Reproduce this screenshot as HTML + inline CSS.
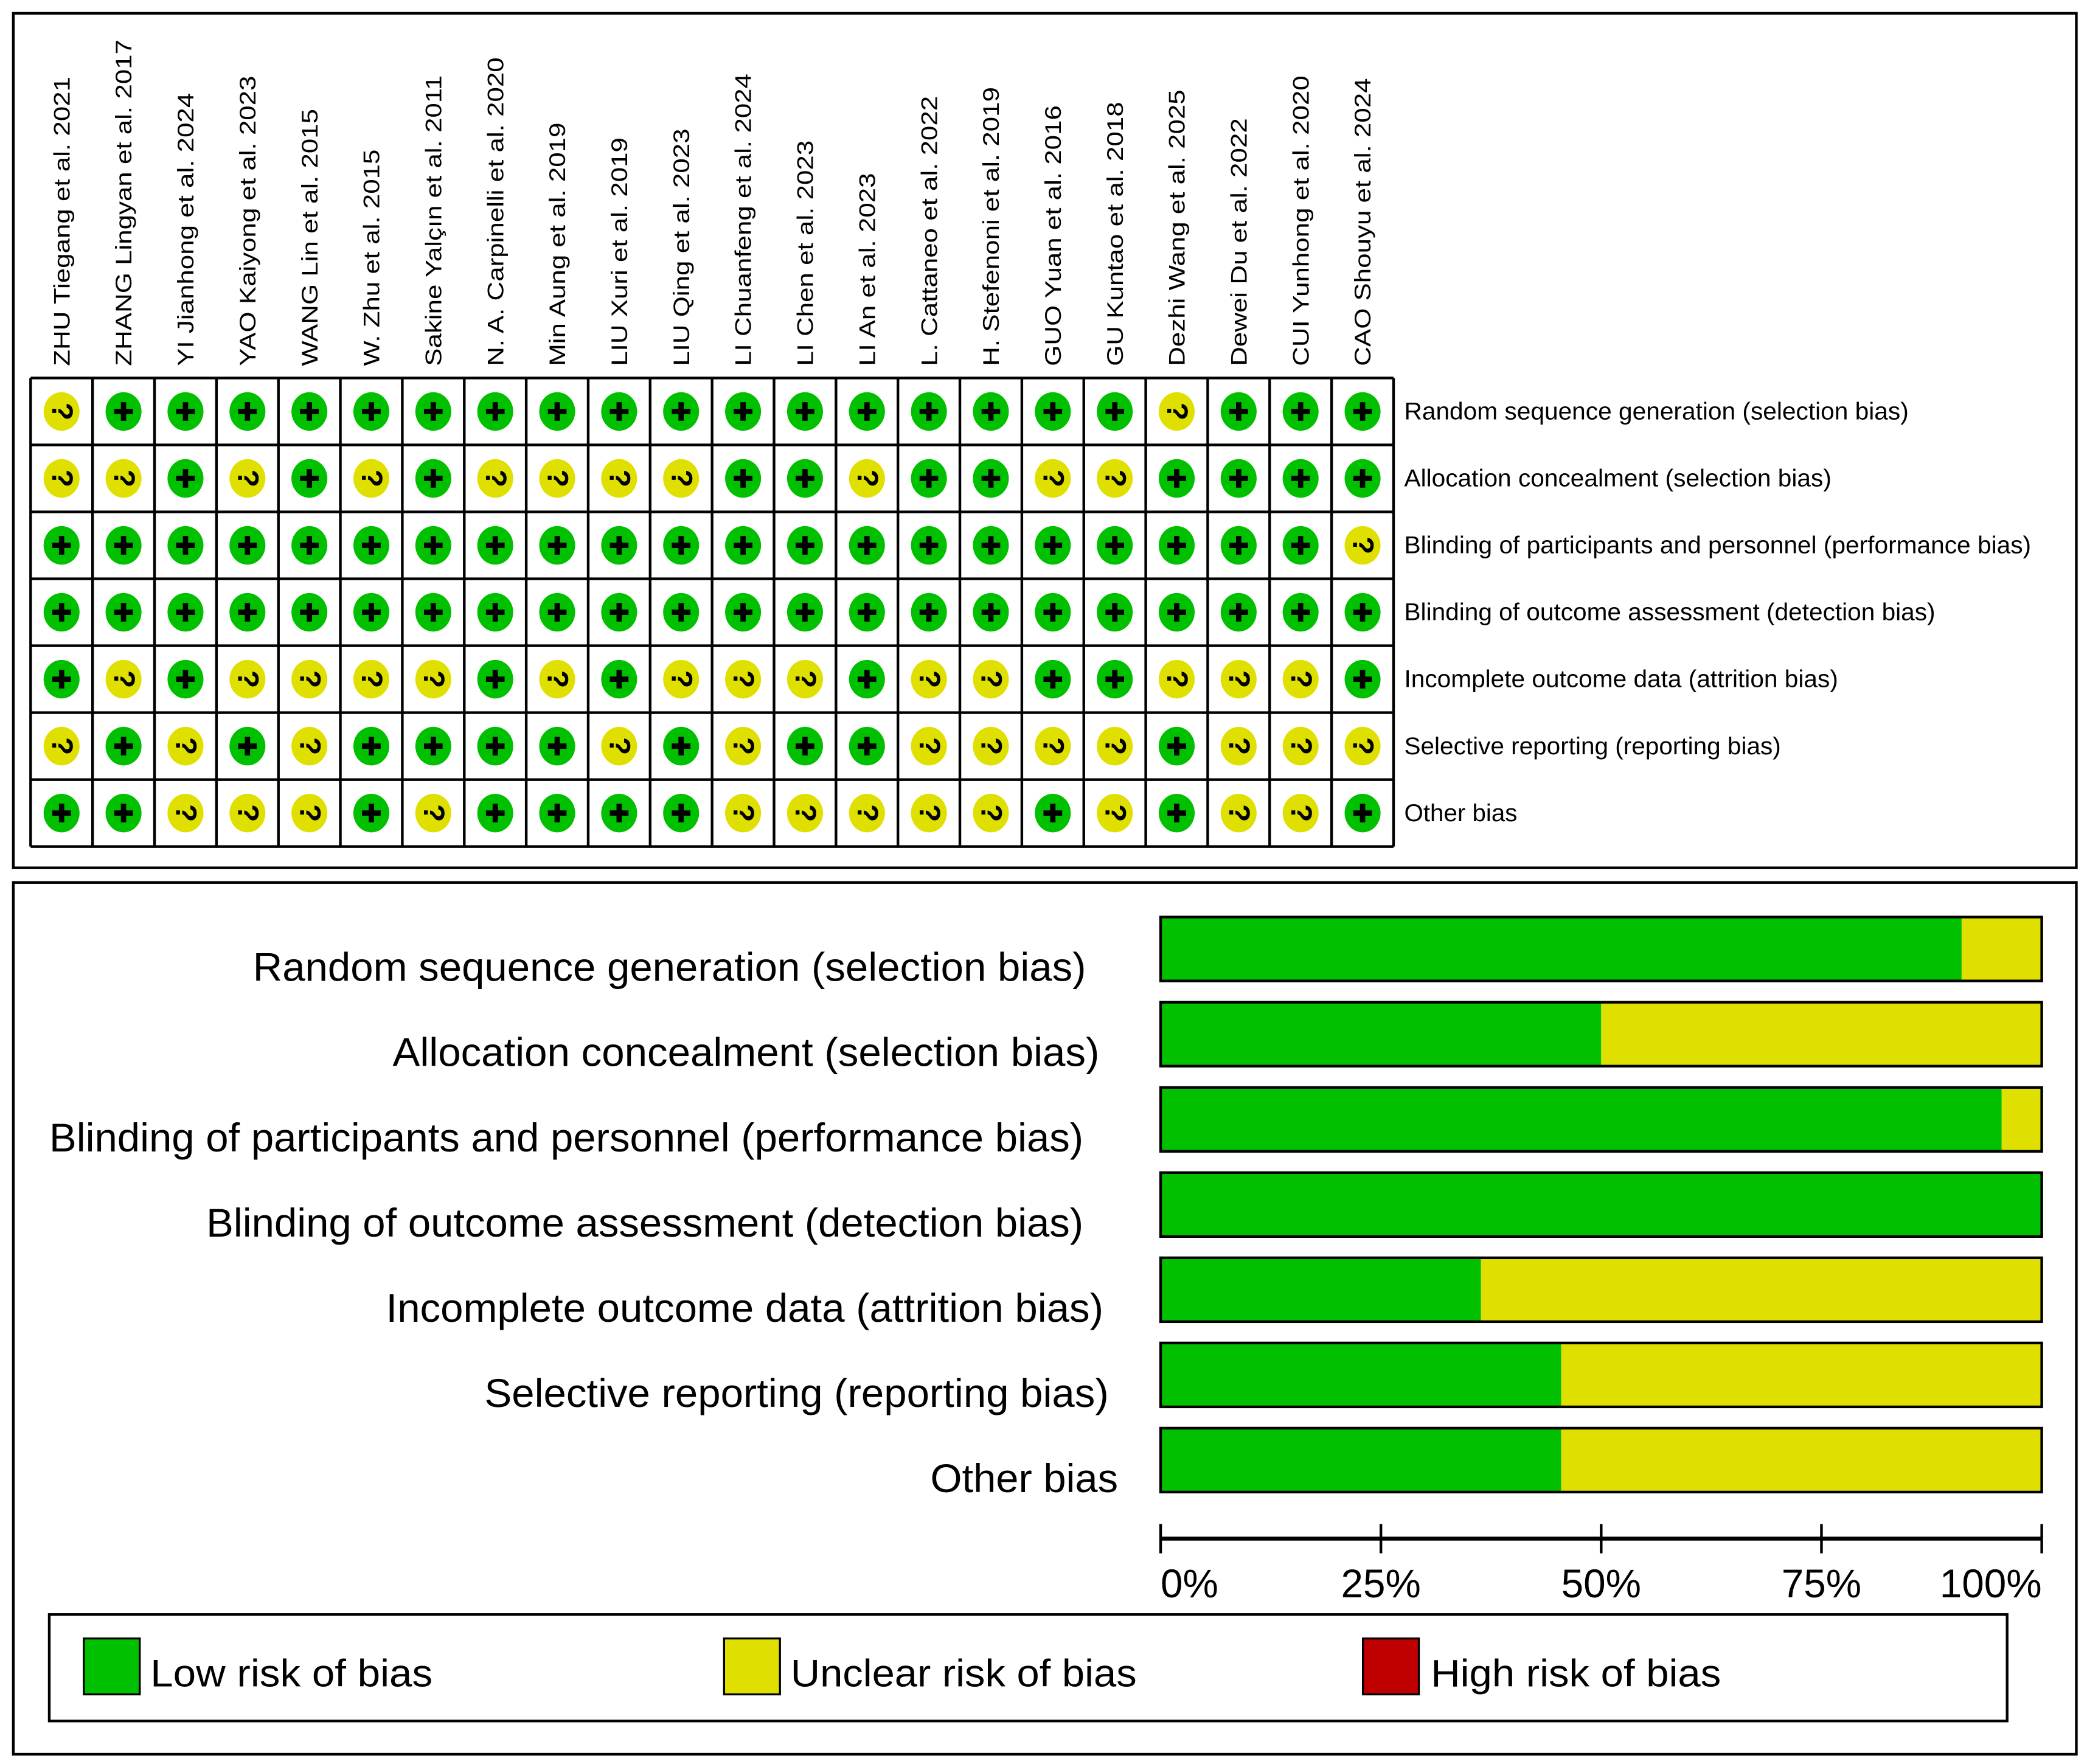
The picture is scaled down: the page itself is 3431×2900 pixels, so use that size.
<!DOCTYPE html>
<html><head><meta charset="utf-8"><style>
html,body{margin:0;padding:0;background:#fff}
svg{display:block;font-family:"Liberation Sans",Arial,sans-serif}
</style></head><body>
<svg id="fig" width="3431" height="2900" viewBox="0 0 1568 1325.3" xmlns="http://www.w3.org/2000/svg">
<rect x="0" y="0" width="1568" height="1326" fill="#fff"/>
<rect x="10" y="10" width="1550" height="642" fill="none" stroke="#000" stroke-width="2"/>
<rect x="10" y="663" width="1550" height="655" fill="none" stroke="#000" stroke-width="2"/>
<g id="matrix"></g>
<g id="bars"></g>
<g id="legend">
  <rect x="37" y="1213" width="1471" height="80" fill="none" stroke="#000" stroke-width="2"/>
  <rect x="63" y="1231" width="42" height="42" fill="#00c000" stroke="#000" stroke-width="1.5"/>
  <text x="113" y="1267" font-size="29" textLength="212" lengthAdjust="spacingAndGlyphs">Low risk of bias</text>
  <rect x="544" y="1231" width="42" height="42" fill="#e0e000" stroke="#000" stroke-width="1.5"/>
  <text x="594" y="1267" font-size="29" textLength="260" lengthAdjust="spacingAndGlyphs">Unclear risk of bias</text>
  <rect x="1024" y="1231" width="42" height="42" fill="#c00000" stroke="#000" stroke-width="1.5"/>
  <text x="1075" y="1267" font-size="29" textLength="218" lengthAdjust="spacingAndGlyphs">High risk of bias</text>
</g>
</svg>
<script>
const studies = ["ZHU Tiegang et al. 2021","ZHANG Lingyan et al. 2017","YI Jianhong et al. 2024","YAO Kaiyong et al. 2023","WANG Lin et al. 2015","W. Zhu et al. 2015","Sakine Yalçın et al. 2011","N. A. Carpinelli et al. 2020","Min Aung et al. 2019","LIU Xuri et al. 2019","LIU Qing et al. 2023","LI Chuanfeng et al. 2024","LI Chen et al. 2023","LI An et al. 2023","L. Cattaneo et al. 2022","H. Stefenoni et al. 2019","GUO Yuan et al. 2016","GU Kuntao et al. 2018","Dezhi Wang et al. 2025","Dewei Du et al. 2022","CUI Yunhong et al. 2020","CAO Shouyu et al. 2024"];
const domains = ["Random sequence generation (selection bias)","Allocation concealment (selection bias)","Blinding of participants and personnel (performance bias)","Blinding of outcome assessment (detection bias)","Incomplete outcome data (attrition bias)","Selective reporting (reporting bias)","Other bias"];
const judgements = [
"?+++++++++++++++++?+++",
"??+?+?+????++?++??++++",
"+++++++++++++++++++++?",
"++++++++++++++++++++++",
"+?+????+?+???+??++???+",
"?+?+?++++?+?++????+???",
"++???+?++++?????+?+??+"
];
const tickValues = [0,25,50,75,100];
const tickLabels = ["0%","25%","50%","75%","100%"];

const NS="http://www.w3.org/2000/svg";
function mk(tag, attrs, parent){const e=document.createElementNS(NS,tag);for(const k in attrs)e.setAttribute(k,attrs[k]);parent.appendChild(e);return e;}

// ---- matrix ----
const M=document.getElementById('matrix');
const gx0=23,gx1=1047,gy0=284,gy1=636;
const cw=(gx1-gx0)/studies.length, rh=(gy1-gy0)/domains.length;
const colX=i=>gx0+cw*(i+0.5), rowY=j=>gy0+rh*(j+0.5);
studies.forEach((s,i)=>{
  const t=mk('text',{x:0,y:0,'font-size':17,transform:`translate(${colX(i)+6},275) rotate(-90)`},M);
  
  
  t.textContent=s;
  const L=t.getComputedTextLength();
  if(L>0){t.setAttribute('textLength',(L*1.18).toFixed(1));t.setAttribute('lengthAdjust','spacingAndGlyphs');}
});
const rowLens=[379,321,471,399,326,283,85];
domains.forEach((d,j)=>{
  const t=mk('text',{x:1055,y:rowY(j)+6,'font-size':18,textLength:rowLens[j],lengthAdjust:'spacingAndGlyphs'},M);
  
  
  t.textContent=d;
});
judgements.forEach((row,j)=>{
  row.split('').forEach((v,i)=>{
    const g=mk('g',{},M);
    
    
    const cx=colX(i), cy=rowY(j);
    mk('ellipse',{cx:cx,cy:cy,rx:13.5,ry:14.5,fill:v==='+'?'#00c000':'#e0e000'},g);
    if(v==='+'){
      mk('rect',{x:cx-7,y:cy-2,width:14,height:4,fill:'#000'},g);
      mk('rect',{x:cx-2,y:cy-7,width:4,height:14,fill:'#000'},g);
    } else {
      const q=mk('text',{x:0,y:7,'font-size':22,'font-weight':'bold','text-anchor':'middle',transform:`translate(${cx},${cy}) rotate(90)`},g);
      q.textContent='?';
    }
  });
});
for(let i=0;i<=studies.length;i++) mk('line',{x1:gx0+cw*i,y1:gy0,x2:gx0+cw*i,y2:gy1,stroke:'#000','stroke-width':2},M);
for(let j=0;j<=domains.length;j++) mk('line',{x1:gx0,y1:gy0+rh*j,x2:gx1,y2:gy0+rh*j,stroke:'#000','stroke-width':2},M);

// ---- bar chart ----
const B=document.getElementById('bars');
const bx0=872,bx1=1534;
const xS=p=>bx0+(bx1-bx0)*p/100;
const barTop=j=>689+64*j, barH=48;
const lowPct=judgements.map(r=>100*r.split('').filter(c=>c==='+').length/r.length);
const unclearPct=judgements.map(r=>100*r.split('').filter(c=>c==='?').length/r.length);
const labelEnd=[816,826,814,814,829,833,840];
const labelLen=[626,531,777,659,539,469,141];
domains.forEach((d,j)=>{
  const y=barTop(j);
  const g1=mk('rect',{x:xS(0),y:y,width:xS(lowPct[j])-xS(0),height:barH,fill:'#00c000'},B);
  
  
  const g2=mk('rect',{x:xS(lowPct[j]),y:y,width:xS(lowPct[j]+unclearPct[j])-xS(lowPct[j]),height:barH,fill:'#e0e000'},B);
  
  
  mk('rect',{x:xS(0),y:y,width:xS(100)-xS(0),height:barH,fill:'none',stroke:'#000','stroke-width':2},B);
  const t=mk('text',{x:labelEnd[j],y:y+48,'font-size':30,'text-anchor':'end',textLength:labelLen[j],lengthAdjust:'spacingAndGlyphs'},B);
  
  
  t.textContent=d;
});
const ax=mk('line',{x1:xS(0),y1:1156,x2:xS(100),y2:1156,stroke:'#000','stroke-width':3},B);


tickValues.forEach((v,k)=>{
  mk('line',{x1:xS(v),y1:1145,x2:xS(v),y2:1167,stroke:'#000','stroke-width':2},B);
  const anchor=k===0?'start':(k===tickValues.length-1?'end':'middle');
  const t=mk('text',{x:xS(v),y:1200,'font-size':30,'text-anchor':anchor},B);
  
  
  t.textContent=tickLabels[k];
});
</script>
</body></html>
